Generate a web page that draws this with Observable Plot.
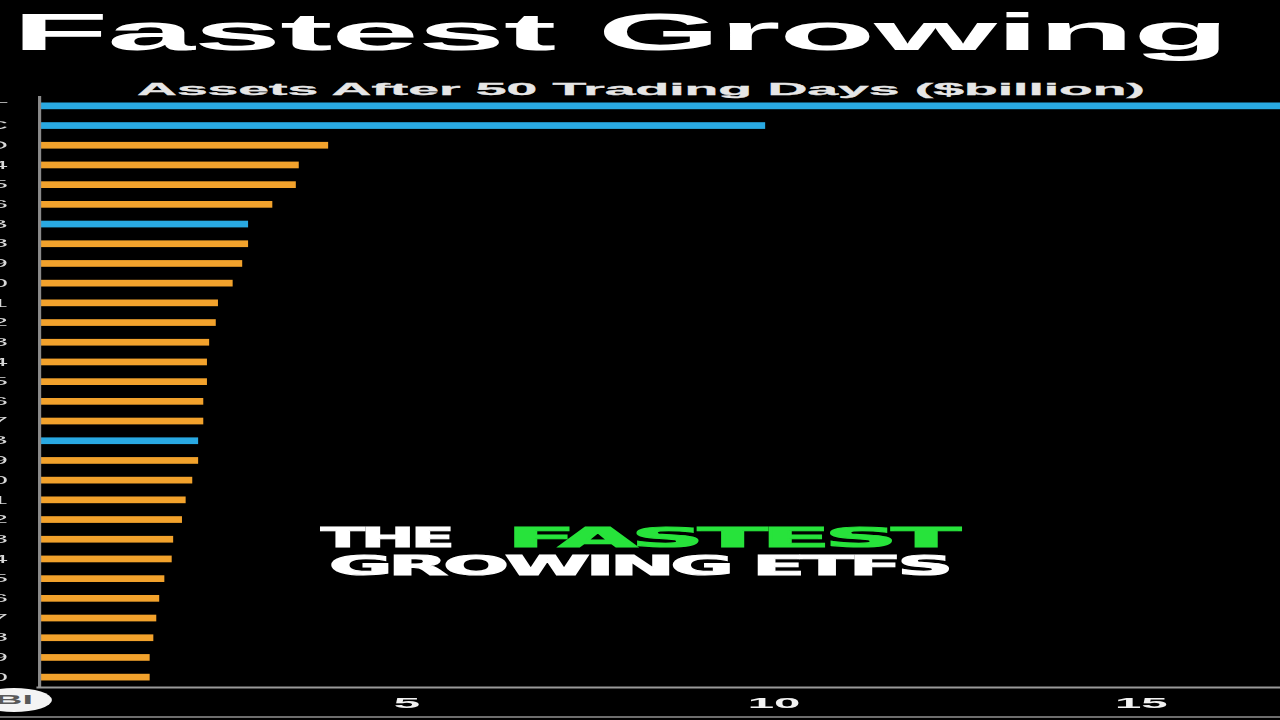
<!DOCTYPE html>
<html>
<head>
<meta charset="utf-8">
<script src="https://cdn.jsdelivr.net/npm/d3@7"></script>
<script src="https://cdn.jsdelivr.net/npm/@observablehq/plot@0.6"></script>
<style>
  html, body { margin: 0; padding: 0; background: #000; }
  body { width: 1280px; height: 720px; overflow: hidden; position: relative; font-family: "Liberation Sans", Arial, sans-serif; }
  .fit { position: absolute; white-space: nowrap; display: inline-block; transform-origin: 0 0; line-height: 1; }
  #title { left: 12px; top: 6px; font-size: 52px; font-weight: bold; color: #fff; letter-spacing: -0.5px; }
  #subtitle { left: 137px; top: 81px; font-size: 17px; font-weight: bold; color: #e6e6e6; -webkit-text-stroke: 0.3px #e6e6e6; }
  .cap { font-family: "DejaVu Sans", sans-serif; font-weight: bold; font-size: 27px; color: #fff; letter-spacing: -1.5px; -webkit-text-stroke: 1.1px currentColor; }
  #cap1a { left: 321px; top: 524px; }
  #cap1b { left: 507px; top: 524px; color: #27e33b; }
  #cap2 { left: 329px; top: 552px; }
  #chart { position: absolute; left: 0; top: 95px; transform-origin: 0 0; }
  #logo { position: absolute; left: 2px; top: 688px; width: 24px; height: 24px; border-radius: 50%; background: #f4f4f4;
          transform-origin: 50% 50%; color: #5a5a5a; font-weight: bold; font-size: 12px; line-height: 24px; text-align: center; }
  #bottomline { position: absolute; left: 0; top: 716px; width: 1280px; height: 2px; background: #6d6d6d; }
</style>
</head>
<body>
<div id="title" class="fit" data-w="1216">Fastest Growing</div>
<div id="subtitle" class="fit" data-w="1008">Assets After 50 Trading Days ($billion)</div>
<div id="chart"></div>
<div id="cap1a" class="fit cap" data-w="130">THE</div>
<div id="cap1b" class="fit cap" data-w="448">FASTEST</div>
<div id="cap2" class="fit cap" data-w="620">GROWING ETFS</div>
<div id="logo">BI</div>
<div id="bottomline"></div>
<script>
// ---- data ----
const tickers = ["IBIT","FBTC","GLD","ETF 4","ETF 5","ETF 6","ARKB","ETF 8","ETF 9","ETF 10",
                 "ETF 11","ETF 12","ETF 13","ETF 14","ETF 15","ETF 16","ETF 17","BITB","ETF 19","ETF 20",
                 "ETF 21","ETF 22","ETF 23","ETF 24","ETF 25","ETF 26","ETF 27","ETF 28","ETF 29","ETF 30"];
const assets = [17.3, 9.90, 3.95, 3.55, 3.51, 3.19, 2.86, 2.86, 2.78, 2.65,
                2.45, 2.42, 2.33, 2.30, 2.30, 2.25, 2.25, 2.18, 2.18, 2.10,
                2.01, 1.96, 1.84, 1.82, 1.72, 1.65, 1.61, 1.57, 1.52, 1.52];
const kinds = ["Bitcoin","Bitcoin","Other","Other","Other","Other","Bitcoin","Other","Other","Other",
               "Other","Other","Other","Other","Other","Other","Other","Bitcoin","Other","Other",
               "Other","Other","Other","Other","Other","Other","Other","Other","Other","Other"];
const xTicks = [5, 10, 15];
const kindDomain = ["Bitcoin", "Other"];
const kindColors = ["#29a9e2", "#f2a22c"];

const rows = tickers.map((t, i) => ({ticker: t, assets: assets[i], kind: kinds[i]}));

// the source frame is horizontally stretched
const S = 3.16;
const W = 1280 / S;

const chart = Plot.plot({
  width: W,
  height: 625,
  marginLeft: 38 / S,
  marginRight: 0,
  marginTop: 1,
  marginBottom: 33,
  style: {background: "transparent", color: "#fff", fontFamily: "Liberation Sans, Arial, sans-serif", overflow: "visible"},
  x: {domain: [0, (1280 - 38) / 73.45], ticks: xTicks},
  y: {domain: tickers, padding: 0, round: false},
  color: {domain: kindDomain, range: kindColors},
  marks: [
    Plot.barX(rows, {y: "ticker", x: "assets", fill: "kind", insetTop: 6.5, insetBottom: 6.5, clip: true}),
    Plot.ruleX([0], {stroke: "#8a8a8a", strokeWidth: 1}),
    Plot.frame({anchor: "bottom", stroke: "#9a9a9a", strokeWidth: 2}),
    Plot.axisX({ticks: xTicks, tickSize: 0, tickPadding: 10, fontSize: 15, fontWeight: "bold", fill: "#f2f2f2", label: null}),
    Plot.axisY({tickSize: 0, tickPadding: 10, fontSize: 10, fill: "#d8d8d8", label: null})
  ]
});
chart.style.maxWidth = "none";
const holder = document.getElementById("chart");
holder.appendChild(chart);
holder.style.transform = `scaleX(${S})`;

// stretch the texts like the source frame
document.querySelectorAll(".fit").forEach(el => {
  const w = el.getBoundingClientRect().width;
  el.style.transform = `scaleX(${(+el.dataset.w) / w})`;
});
document.getElementById("logo").style.transform = `scaleX(${S})`;
</script>
</body>
</html>
